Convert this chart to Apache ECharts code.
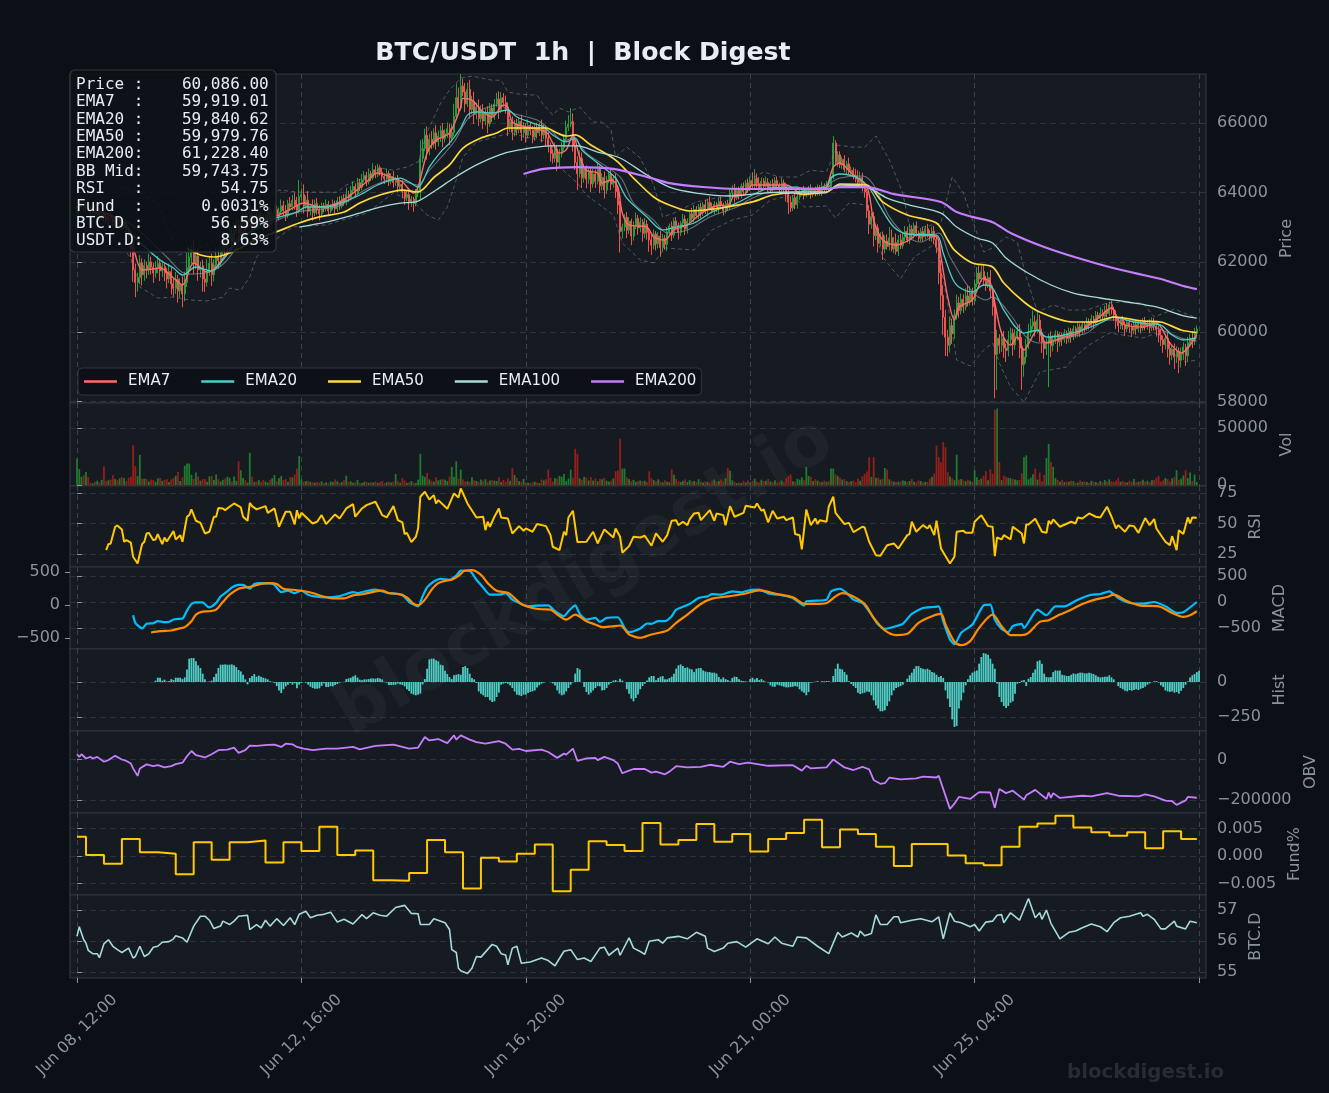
<!DOCTYPE html>
<html><head><meta charset="utf-8"><title>BTC/USDT 1h</title>
<script src="https://cdn.jsdelivr.net/npm/echarts@6/dist/echarts.min.js"></script>
<style>html,body{margin:0;padding:0;background:#0c1016}#c{width:1329px;height:1093px}</style>
</head><body><div id="c"></div>
<script>
// Hourly closes, Jun 08 12:00 onward
const closes=[63480,63620,63710,63590,63650,63540,63420,63510,63380,63440,
63300,63360,63280,63210,63330,63250,63160,63220,63090,63140,
63020,63080,62910,62760,62380,61780,61420,61560,61980,61640,
61910,61780,62010,61860,61690,61840,61970,61750,61880,61690,
61520,61730,61380,61250,61510,61180,61360,61090,61420,61840,
62150,62290,61950,62180,61780,61900,61520,61430,61780,61970,
61640,61920,62180,62050,62340,62510,62420,62680,62820,62590,
62900,63060,62820,63120,63290,63080,63240,63380,63150,63330,
63180,63390,63260,63120,63340,63450,63210,63390,63520,63310,
63440,63620,63480,63350,63680,63590,63780,63640,63490,63880,
63940,63620,63780,63460,63590,63420,63680,63510,63390,63620,
63540,63660,63470,63590,63680,63530,63760,63610,63830,63720,
63950,63840,64060,64170,63990,64280,64150,64360,64490,64310,
64530,64420,64650,64510,64710,64580,64460,64390,64550,64320,
64460,64290,64380,64170,64240,64020,63860,63940,63720,63810,
63690,63980,64060,64980,65260,65640,65180,65520,65390,65710,
65450,65620,65780,65540,65690,65830,65570,65720,66180,66720,
66420,67050,66880,66540,66960,66380,66610,66240,66450,66120,
66330,66050,66280,65980,66420,66190,66540,66680,66350,66720,
66580,66410,65880,66020,65730,65960,65810,66040,65720,65890,
65640,65920,65780,65590,65860,65710,65930,65650,65820,65560,
65340,65120,64980,65250,64870,65110,65290,65540,65870,65960,
66030,65340,64860,64540,64980,64420,64690,64380,64610,64250,
64530,64320,64680,64190,64430,64070,64360,64530,64240,64410,
64020,63640,62880,63010,63290,62920,63180,62750,63040,63260,
62980,63150,62830,63090,62860,62640,62490,62810,62530,62750,
62420,62690,62510,62870,63040,62780,63180,63050,62860,63120,
63240,62950,63180,63390,63260,63510,63340,63580,63420,63650,
63500,63720,63590,63480,63660,63530,63740,63620,63470,63680,
63590,63980,64120,63850,64050,63900,64180,64030,64270,64120,
64340,64190,64410,64260,64130,64320,64180,64290,64110,64260,
64150,64340,64200,64090,64280,64170,63950,63720,63560,63840,
63650,63880,63990,64060,63930,64020,64110,63960,64080,63990,
64120,64030,64180,64090,64210,64160,64460,65420,64860,65080,
64790,64950,64660,64820,64590,64640,64480,64380,64290,64430,
64180,64020,63480,63090,63310,62760,62980,62540,62790,62380,
62610,62450,62700,62380,62560,62310,62640,62480,62720,62890,
62640,62950,62780,63050,62840,62690,62880,62730,62960,62810,
62700,62890,62650,62430,61700,61050,60420,59850,59620,60180,
59950,60480,60830,60610,60940,60720,61030,60850,61120,60890,
61380,61690,61520,61730,61480,61350,61560,61180,60720,59350,
59820,59620,59820,59540,59470,59780,59960,59630,59880,60020,
59540,59060,59280,59640,59980,60170,60290,60080,60340,59980,
59710,59520,59680,59850,59610,59780,59940,59720,59880,59790,
59960,59810,60020,59860,60090,59970,60150,60030,60210,60120,
60280,60190,60370,60260,60480,60390,60540,60450,60620,60530,
60780,60640,60490,60310,60180,60350,60210,60090,60270,60140,
60050,60210,60090,60240,60120,60310,60180,60260,60130,60290,
60170,60060,59910,59780,59640,59820,59530,59340,59510,59280,
59450,59190,59360,59570,59320,59690,59820,59740,59960,60086];
const firstOpen=63400;
const upperWicks=[120,90,150,80,110,130,70,100,140,60,90,120,70,110,80,130,60,100,90,140,
110,70,130,90,160,120,180,140,220,130,170,110,240,150,120,190,210,130,170,110,
140,230,120,160,210,130,180,240,310,420,280,190,340,160,230,120,170,260,310,190,
280,170,240,200,130,160,220,120,260,180,240,190,150,210,170,260,140,320,190,120,
160,130,240,110,90,170,150,120,200,110,130,180,140,160,110,190,150,220,240,480,
180,290,130,260,90,210,120,160,130,90,80,140,100,70,120,90,110,130,80,120,
190,100,130,150,90,140,110,170,120,100,160,90,190,120,110,70,130,90,140,80,
90,150,70,120,80,110,60,100,130,90,70,120,140,520,280,190,260,170,240,130,
220,160,140,210,120,180,150,240,360,410,290,350,210,260,190,270,160,280,130,220,
170,210,120,190,150,110,140,180,220,160,130,200,170,90,160,120,150,110,190,130,
100,170,110,130,90,140,80,160,120,100,170,90,120,180,110,140,170,130,190,260,
390,240,200,180,230,170,140,90,120,110,150,130,180,90,120,170,110,80,140,90,
130,160,120,100,90,150,110,70,130,170,100,140,90,180,120,90,160,130,80,110,
150,120,90,140,70,130,100,120,90,60,150,110,80,90,170,130,100,90,120,80,
140,100,170,120,90,70,110,130,90,80,110,150,90,130,100,120,80,110,90,130,
120,240,260,140,180,110,90,170,120,80,130,100,120,80,140,90,110,130,170,90,
120,150,100,90,130,100,80,120,70,90,110,90,130,80,120,60,90,200,80,100,
100,70,120,90,180,110,80,200,260,170,140,120,90,160,100,130,80,110,70,90,
150,190,310,240,170,260,140,180,120,150,130,160,110,90,120,70,100,130,90,140,
110,130,150,110,240,360,290,220,210,260,200,170,240,180,160,140,230,300,190,150,
130,170,210,160,180,130,160,220,150,170,240,120,150,210,130,250,170,140,200,190,
210,310,240,170,260,210,330,180,240,160,120,190,130,110,170,140,110,90,130,100,
120,80,110,90,100,70,120,90,100,80,140,110,130,90,120,100,170,110,140,210,
90,110,80,130,100,70,110,90,80,120,100,80,130,70,110,90,120,80,100,130,
110,90,130,170,120,90,190,150,120,160,140,110,190,130,90,170,120,210,160,100];
const lowerWicks=[90,120,80,140,100,90,130,70,110,150,80,100,130,90,120,70,140,110,100,90,
130,80,120,160,230,340,420,260,190,310,170,240,150,210,280,130,160,290,180,230,
270,120,310,240,160,340,190,380,210,130,180,250,290,150,310,220,360,280,130,170,
320,190,150,240,180,120,210,140,160,290,130,110,250,100,170,240,130,90,210,120,
190,110,150,210,90,130,240,120,80,170,110,90,140,170,80,120,100,130,190,90,
110,220,90,170,120,230,100,140,190,80,110,90,150,70,90,130,80,110,70,100,
90,120,70,80,130,60,110,90,70,130,80,90,60,100,70,90,120,140,80,130,
90,150,100,170,80,190,210,110,220,130,240,90,110,280,120,80,240,110,140,100,
220,130,170,240,110,120,210,130,100,90,190,70,120,240,90,260,130,280,140,210,
110,230,120,280,90,170,100,80,240,70,110,150,260,140,230,120,170,110,240,150,
210,90,140,180,110,150,90,210,120,240,190,230,150,110,260,130,100,90,70,110,
90,170,210,470,120,290,140,260,130,240,110,190,90,210,130,240,110,90,170,100,
180,260,600,200,120,230,110,260,130,90,190,120,240,140,210,340,280,120,190,130,
260,110,150,190,100,170,90,120,210,110,100,170,130,90,70,120,80,110,150,90,
120,190,100,80,110,90,130,80,130,70,120,80,110,140,60,100,70,90,90,130,
80,70,110,120,90,100,80,110,90,110,120,90,100,130,150,170,210,340,120,90,
130,110,90,80,130,70,110,140,90,100,80,120,130,110,70,100,90,80,100,120,
90,110,80,130,70,90,100,90,130,110,150,170,210,280,130,310,120,260,90,310,
130,90,110,70,120,90,130,100,90,110,70,120,90,100,110,80,90,130,80,100,
90,110,130,170,330,420,510,540,320,210,290,140,130,200,110,170,100,120,90,140,
110,90,140,80,150,170,90,210,250,1250,1010,240,190,280,330,170,130,310,140,120,
290,720,340,180,130,110,90,210,120,260,310,290,180,1260,330,170,120,290,140,190,
100,150,110,170,90,130,120,170,90,130,80,120,90,150,70,110,90,120,80,110,
80,140,170,220,190,100,150,210,90,170,190,110,170,100,160,90,130,110,170,100,
130,190,210,180,240,140,260,280,150,340,170,370,210,160,290,170,120,200,110,90];
const volumes=[23000,14000,7200,8700,11500,7200,2000,1500,3000,3800,2400,4600,16500,3500,4200,4800,8700,5300,4100,6000,
7000,6200,3600,6500,7400,35000,16500,7800,26500,5600,5600,5400,3200,4800,4400,2800,5900,6200,3700,4600,
5100,2800,5000,6300,8200,11500,3600,6800,17000,18800,18800,9000,5400,11000,7400,3800,5100,5400,2900,7600,
8000,4400,9300,5200,3100,4600,5700,7300,6400,3400,7500,3800,20800,13000,6300,4300,2200,28300,7200,2800,
3000,4400,2800,4300,3000,2200,4700,6000,8800,3400,6200,8000,4500,5300,2600,7000,6800,9400,14500,25400,
4800,3000,3400,3700,2800,2400,2100,2600,2200,3300,1800,2400,1600,3100,2700,5000,3200,2100,2600,4200,
8200,2800,3200,2100,2400,4400,2000,1800,2900,3000,2100,2500,2300,3200,1900,2600,3600,1700,2500,3000,
2300,3000,9700,3300,2100,6300,4000,2000,2400,3500,2200,1800,4700,27500,8400,7200,10500,5000,3800,2900,
6800,4100,4800,5200,4700,3500,7400,15900,7000,20800,5600,13600,5000,3200,3500,2600,6800,4200,3600,2700,
4900,3800,5100,2900,4100,4400,3800,3500,6800,2700,4600,3000,5800,3800,15000,8800,6400,3600,3000,5400,
2400,2000,1800,2600,3000,2300,1700,4900,4100,5200,13600,6400,3000,6100,5700,8100,7300,9800,3400,5700,
13600,6500,31800,27500,5900,4600,7200,6500,4000,7000,3900,5800,3300,5300,5100,6500,3800,3000,3900,5800,
12100,12800,40500,14500,14500,6800,5400,3500,4600,2800,3500,4000,3400,3800,2800,12100,6000,4400,3300,5000,
3300,2400,4200,3000,2500,13600,9000,5400,3200,2800,3900,5000,2700,4400,3200,3600,2800,5100,3000,2400,
3300,2800,1600,3800,4800,2900,3600,5000,3400,6000,15000,12500,4200,3000,1700,2500,1800,3700,2400,4000,
2500,3800,5600,3100,2400,4700,3600,3800,5300,3100,2600,4300,2200,3000,4000,2700,6200,8000,9400,3400,
3000,5500,4700,6800,4200,15900,8000,7300,3500,5100,3900,3000,2600,4000,2800,3400,14500,14500,9500,8000,
6400,4800,5200,3500,2800,3600,4000,2500,5600,3800,7700,9800,12000,24500,7200,24500,6400,6600,4800,5500,
15000,13600,5000,3700,3000,2600,3000,3300,4100,3600,2800,3600,5300,3000,2500,4100,3600,2200,3000,2700,
5500,7300,10000,34700,24500,20000,37600,33200,11200,7500,5800,4300,26600,4600,5300,4200,3400,4600,3800,2800,
13000,6800,4500,5800,8200,12200,4200,14000,10000,65900,67000,20200,4300,8300,7400,6300,6000,5400,5000,4200,
4500,10500,24600,26000,5000,6600,9400,14500,4800,11000,3400,9000,23700,36100,20200,15900,6100,4500,3000,4400,
2600,3100,2900,3800,3400,2000,2300,4100,2900,3200,2700,1800,3700,3000,2600,2100,3600,2400,4400,3100,
5000,3300,2700,4000,6500,2900,3600,2800,2400,3800,3100,5300,2600,2900,3500,4700,3000,3800,2500,4200,
4500,6500,8000,3000,4100,6200,5300,3300,6000,7000,13000,4400,5800,8400,13000,6100,11000,3600,9200,2800];

// Moving averages, read at the hours listed beside them
const ema7Hours=[6,12,18,22,24,26,29,33,37,43,47,52,58,62,67,72,76,83,90,96,101,108,116,122,129,134,141,145,150,152,156,160,166,171,172,176,180,183,185,190,192,194,200,209,212,215,218,221,224,227,232,234,238,241,243,246,254,257,262,266,272,279,287,290,293,297,301,307,316,324,331,334,337,340,345,352,355,359,365,371,374,383,385,388,391,393,399,404,407,409,412,416,419,422,428,432,440,446,455,461,465,475,481,487,492,499];
const ema7=[63560,63420,63250,63080,62800,62208,61777,61800,61835,61548,61347,61978,61720,61864,62294,62700,63010,63200,63354,63555,63698,63584,63698,63928,64300,64558,64415,64300,63985,64157,65132,65505,65705,66450,66700,66650,66360,66220,66160,66510,66450,66020,65880,65735,65418,65130,65220,65650,65015,64640,64558,64270,64360,64157,63410,63070,63010,62725,62640,62925,63070,63440,63640,63584,63928,63928,64215,64215,64215,63928,64070,64157,64730,64845,64558,64157,63210,62640,62494,62640,62780,62725,62150,61000,60344,60717,60918,61548,61405,60830,59970,59627,59856,59484,60057,59685,59856,59970,60400,60688,60258,60143,60258,59685,59398,59919];
const ema20Hours=[19,27,37,43,47,53,60,65,71,80,89,98,102,111,119,126,134,144,148,152,157,162,166,171,174,178,185,192,196,203,208,212,218,222,225,232,240,245,254,261,267,275,283,294,301,309,321,324,331,334,336,340,348,353,358,364,370,383,386,390,393,399,404,408,413,422,428,432,440,448,457,462,471,478,483,488,493,499];
const ema20=[63200,62640,62065,61835,61634,61864,61748,62065,62550,63000,63270,63440,63584,63584,63730,63928,64215,64415,64300,64157,64730,65160,65418,65850,66220,66310,66280,66365,66165,65990,65880,65650,65450,65560,65220,64845,64415,63840,63300,62925,63010,63125,63440,63698,63928,64130,64157,64070,64130,64157,64415,64530,64415,64130,63584,63010,62810,62780,62265,61548,61290,61147,61348,61260,60630,59970,60057,59856,59914,60057,60287,60430,60287,60230,60200,59914,59770,59841];
const ema50Hours=[49,55,61,68,80,90,99,108,119,126,135,145,152,159,166,172,180,187,192,209,214,218,222,229,240,248,257,264,273,287,301,310,319,324,331,334,340,352,359,370,383,388,391,399,408,413,422,429,444,453,462,475,483,492,499];
const ema50=[62400,62208,62150,62265,62650,62900,63125,63300,63440,63698,63928,64070,64015,64430,64790,65275,65560,65705,65850,65850,65705,65620,65650,65360,64930,64415,63870,63640,63470,63555,63730,63928,63985,63955,63985,64000,64243,64215,63730,63354,63125,62640,62350,61978,61864,61405,60860,60573,60287,60287,60430,60315,60287,60057,59980];
const ema100Hours=[99,111,123,135,144,151,160,168,178,188,197,211,223,232,242,254,264,276,291,306,319,331,334,340,352,361,371,385,392,401,408,414,423,434,444,456,468,481,492,499];
const ema100=[63010,63150,63354,63584,63698,63730,64070,64415,64790,65075,65220,65335,65335,65160,64990,64500,64157,63985,63900,63985,64015,64015,64020,64215,64157,63840,63640,63410,63010,62695,62550,62120,61720,61348,61118,60975,60860,60717,60487,60400];
const ema200Hours=[199,208,223,239,254,264,279,294,309,324,334,340,352,364,385,392,399,408,416,431,446,460,475,483,493,499];
const ema200=[64530,64675,64730,64675,64445,64270,64157,64100,64100,64100,64100,64157,64157,63955,63727,63440,63300,63150,62840,62437,62120,61864,61634,61520,61319,61228];

// Bollinger bands
const bbMidHours=[19,30,40,49,59,66,76,89,99,116,129,141,152,156,162,168,175,188,194,205,211,217,221,227,242,248,257,263,272,282,294,301,316,331,334,340,350,355,362,370,376,384,389,399,405,408,416,423,429,440,450,459,468,478,492,499];
const bbMid=[63320,62780,62150,61660,61720,62000,62800,63200,63450,63600,64100,64380,64214,64558,64990,65447,66165,66510,66280,66080,65790,65476,65560,65130,64445,63698,63210,62840,62925,63300,63584,63840,64157,64130,64214,64415,64473,64215,63300,62725,62580,62840,62150,61147,60918,61000,60487,59856,59684,59828,59970,60344,60344,60200,59828,59744];
const bbUpperHours=[19,26,36,45,58,70,87,90,99,116,120,129,135,141,147,152,156,162,166,171,176,185,189,192,197,205,208,212,215,219,224,230,234,238,240,245,251,257,261,266,276,287,294,301,306,313,321,327,334,339,346,351,356,362,368,371,377,385,390,395,399,404,408,414,419,423,428,435,442,450,459,465,475,480,489,499];
const bbUpper=[64130,64050,63700,62200,62500,63100,63930,64070,64010,64010,64215,64450,64700,64640,64730,64875,65730,66560,66940,67280,67340,67220,67220,66880,66820,66790,66510,66220,66420,66310,66450,66020,66020,65790,65020,65300,64990,64215,63300,63410,63730,63870,63985,64415,64590,64445,64445,64640,64590,65360,65300,65300,65620,64930,63985,63010,63010,63125,64445,63985,63210,62294,62410,62725,62580,61577,60573,60774,60630,60630,60830,60860,60830,60430,60660,60400];
const bbLowerHours=[19,24,28,36,43,50,58,65,68,73,77,80,87,96,111,129,141,150,156,161,165,168,172,178,193,202,211,215,223,227,239,243,251,257,262,275,279,283,292,301,309,319,324,334,338,344,352,359,367,373,383,388,392,398,404,408,411,416,422,429,441,444,451,460,475,481,488,494,499];
const bbLower=[62600,62100,61290,60975,61000,60918,60890,61000,61260,61200,61577,62150,62580,63010,63070,63410,63985,63730,63354,63210,63584,64157,65015,65447,65705,65560,65450,64730,64270,63928,63354,62550,62065,61980,62410,62350,62640,62925,63210,63354,63784,63928,63584,63612,63270,63698,63641,62150,61520,62150,62550,60830,59197,59025,59484,59684,59110,58423,57990,58853,58997,59254,59627,59970,59828,59970,59398,59140,59197];

// RSI
const rsiHours=[13,14,15,17,18,20,21,22,24,25,27,29,30,31,32,34,35,36,38,39,40,43,44,46,47,49,50,51,53,55,57,59,61,62,63,65,66,68,70,73,74,76,77,78,80,84,85,88,90,93,95,97,98,99,100,105,107,109,111,115,117,120,123,124,127,129,133,136,138,141,143,145,146,147,149,151,152,153,155,157,159,160,161,165,168,170,171,174,178,181,182,183,184,186,188,189,192,194,197,199,200,203,205,209,211,212,215,217,218,219,221,223,227,230,232,235,239,240,242,243,246,248,251,253,256,258,261,263,265,267,268,270,272,273,275,277,278,282,284,285,288,289,291,293,297,298,302,303,305,306,308,310,312,315,316,319,320,322,323,325,327,329,330,331,334,335,337,338,342,344,346,350,351,353,356,358,361,364,366,370,371,372,374,377,379,380,382,383,385,389,391,392,395,396,399,400,403,406,408,409,410,412,413,416,417,421,422,423,424,427,430,432,433,434,435,438,443,445,446,448,451,454,456,459,461,463,464,467,469,471,473,476,478,480,481,485,487,488,490,491,493,495,496,497,499];
const rsi=[28.1,33,33.6,47.3,48.4,45,35,36.3,34.2,22.7,17.2,33,35,41.8,42.3,36.3,36.9,41.3,33,38.5,35.2,43.7,36.9,40.4,35,55.5,56.8,61.5,52.2,50.5,41.8,43.2,55.5,55.5,62.6,62.3,60.9,63.7,66.4,63.1,55.5,52.2,66.9,64.2,61.5,64.2,58.7,62.3,47.3,59.6,59.6,49.2,60.9,54.1,58.7,50,51.4,56.8,49.5,57.4,54.1,62.3,65.8,55.5,62.3,65,67.8,56.8,54.9,64.2,52.7,50.8,41.3,42.3,34.7,39.1,45.9,71.9,76,69.7,73.2,66.4,69.1,62,74.6,71.3,78.7,66.4,54.9,55.5,44.5,51.4,47.3,55.5,62.3,54.9,54.1,41.8,47.8,44,45.9,43.2,49.5,47.8,40.4,30.9,28.1,43.2,40.4,54.9,60.4,34.7,35,43.2,33.6,45.1,38.5,45.9,39.1,26,31.4,39.1,38.5,39.9,31.7,41.8,35,40.4,52.2,52.7,48.6,51.4,48.6,53.3,58.2,58.7,52.7,60.9,52.2,58.2,56.8,48.6,64.2,55.5,58.7,64.5,63.1,66.4,60.4,61.5,50.8,60.4,54.1,55.5,52.7,54.9,41.3,40.4,28.7,61.5,48.6,54.1,49.5,52.7,51.4,63.7,71.9,58.7,49.5,50.5,42.9,47.3,46.7,35,24,23.5,32.2,33.6,29.5,40.4,41.3,51.4,43.2,48.6,45.9,48.6,40.4,52.2,29.5,17.2,22.7,43.2,44,42.3,42.3,51.4,56.8,47.8,47.3,23.2,38.5,36.9,40.4,36.9,47.3,41.8,33.6,49.2,49.2,53.8,43.2,42.3,52.2,49.5,53.3,47.3,51.4,50,54.9,54.1,58.2,55.5,54.9,63.7,55.5,45.9,48.6,43.2,48.4,47.8,42.3,54.4,48.6,53.6,45.9,35,32.2,39.6,28.1,44.5,41.3,54.9,50,54.9,54.75];

// MACD
const macdHours=[25,26,28,29,31,34,36,39,41,43,45,47,49,51,53,56,58,59,62,64,67,69,72,74,77,79,82,86,88,91,94,97,100,103,106,111,116,119,123,125,129,133,138,142,145,148,152,154,156,159,162,166,169,171,175,178,181,184,188,191,194,198,201,205,210,213,217,219,222,224,227,231,233,236,241,244,246,251,254,256,259,262,265,267,273,277,281,283,287,292,296,300,304,308,315,319,324,325,329,334,336,340,343,346,350,354,357,360,365,368,372,377,382,384,386,389,391,394,399,404,407,409,412,415,417,421,422,428,432,436,440,446,452,456,460,464,469,475,480,485,490,493,499];
const macd=[-255,-401,-484,-510,-420,-408,-369,-389,-382,-338,-325,-319,-166,-38,-6,-6,-83,-102,-19,108,204,280,331,331,255,344,363,357,331,191,217,172,217,140,108,89,102,140,191,172,210,236,178,159,140,0,-83,108,280,395,446,427,510,605,599,427,280,140,140,172,45,-38,-83,-70,-64,-178,-274,-178,-64,-229,-338,-306,-382,-306,-293,-497,-580,-510,-414,-420,-369,-369,-274,-147,-38,76,108,153,140,204,185,229,236,166,121,76,-70,13,25,45,204,255,172,45,-19,-242,-433,-516,-465,-420,-229,-115,-96,-83,-369,-720,-815,-592,-433,-64,-51,-338,-516,-580,-465,-420,-497,-147,-255,-83,-83,45,140,153,204,76,-19,-32,0,-83,-210,-197,0];
const signalHours=[33,37,42,45,48,51,53,56,59,62,65,68,72,75,78,82,86,89,92,96,100,105,109,114,119,123,128,133,136,139,143,147,150,152,155,158,161,165,167,170,173,176,180,183,187,192,195,198,203,207,211,214,218,222,227,231,234,238,242,246,249,251,256,263,267,272,278,283,290,297,304,312,319,324,329,334,338,341,345,351,355,360,365,370,375,381,385,387,391,394,398,402,408,412,416,421,424,429,433,438,443,448,454,459,462,468,474,482,488,493,496,499];
const signal=[-586,-561,-548,-516,-484,-369,-242,-185,-178,-147,0,140,255,280,299,350,363,344,255,236,217,172,115,70,70,127,153,204,217,172,153,89,-38,-64,45,236,363,414,427,503,605,612,522,363,217,178,76,-38,-115,-140,-147,-242,-338,-242,-369,-433,-484,-471,-452,-624,-675,-688,-624,-548,-401,-242,-38,64,108,153,223,153,89,-32,-38,-19,108,172,127,-38,-306,-548,-637,-612,-401,-274,-229,-433,-764,-828,-752,-497,-242,-465,-637,-637,-592,-382,-350,-242,-147,-38,51,96,140,13,-70,-83,-210,-287,-255,-178];
// Histogram, one bar per hour from hour 35
const histStart=35;
const hist=[10,31,31,10,17,5,7,21,14,31,31,31,21,33,90,167,171,171,148,119,100,60,19,2,5,10,36,60,100,124,124,126,124,124,126,119,107,86,76,52,19,-17,29,43,57,38,45,38,31,26,19,5,2,-7,-29,-60,-79,-52,-31,-19,-7,-19,-10,-45,-19,-7,0,-5,-19,-33,-43,-48,-48,-45,-29,-10,-36,-36,-29,-31,-21,-14,-5,0,2,21,26,31,40,48,31,17,12,19,19,21,26,26,24,29,26,19,2,-5,-21,-21,-21,-19,-10,-17,-21,-31,-52,-64,-83,-90,-95,-90,-83,-17,21,95,162,167,167,155,148,124,119,81,57,36,21,48,52,57,52,107,114,100,60,29,19,-7,-67,-83,-95,-107,-107,-131,-143,-138,-107,-76,-19,-12,-7,-12,-24,-43,-67,-90,-95,-100,-90,-90,-79,-71,-67,-60,-40,-24,-12,-5,0,0,-2,-10,-24,-60,-83,-95,-90,-67,-43,-19,-2,60,100,90,0,-36,-71,-90,-76,-60,-43,-29,-31,-60,-57,-43,-19,-7,10,14,5,24,10,0,-52,-83,-119,-138,-114,-90,-52,-29,-12,
10,33,43,43,12,29,38,43,19,19,29,38,60,95,119,126,114,100,105,95,90,71,95,100,100,83,76,71,71,67,67,60,36,19,33,21,14,5,29,38,36,19,10,7,5,2,21,31,19,29,14,21,10,2,-5,-24,-33,-33,-19,-24,-29,-33,-38,-38,-36,-33,-29,-33,-52,-67,-76,-95,-71,-5,-2,2,7,0,5,5,7,7,0,43,95,131,95,90,71,52,5,-14,-29,-43,-76,-86,-81,-76,-67,-71,-95,-131,-167,-190,-209,-209,-202,-171,-138,-95,-60,-43,-36,-29,-19,0,24,48,67,95,114,114,100,95,90,95,86,71,67,52,36,43,29,-60,-119,-179,-267,-321,-314,-190,-131,-76,-24,19,48,67,76,83,131,179,207,202,195,167,131,95,-10,-107,-143,-171,-186,-171,-148,-138,-83,-12,-7,10,14,-29,24,36,67,90,148,155,131,60,36,33,36,71,83,81,83,52,48,43,43,52,62,57,62,67,67,62,62,67,62,57,48,38,33,36,38,38,48,33,19,0,-29,-43,-52,-62,-67,-57,-62,-57,-52,-57,-48,-43,-33,-19,-10,0,5,7,-5,-24,-36,-60,-67,-71,-67,-76,-71,-83,-62,-43,-19,5,33,48,57,71,81];

// On-balance volume
const obvHours=[0,1,2,4,6,7,9,12,14,17,20,22,24,25,27,28,31,34,36,39,42,44,47,49,51,53,57,60,63,67,70,72,75,77,80,85,88,91,93,96,98,101,105,111,116,123,126,133,141,145,148,152,155,157,161,165,168,169,171,175,178,182,188,191,194,197,200,207,210,214,217,218,221,223,227,231,232,235,239,241,243,246,248,253,256,258,262,264,267,272,278,282,288,291,295,299,308,319,323,325,327,334,337,342,346,350,353,355,358,360,362,367,374,377,383,384,389,391,393,398,402,407,409,411,414,417,422,423,427,432,433,434,435,438,448,452,459,464,473,476,480,485,488,490,494,495,499];
const obv=[26000,13000,26000,5000,13000,5000,13000,-11000,-3000,18000,0,-7000,-20000,-44000,-81000,-44000,-24000,-33000,-28000,-39000,-33000,-23000,-16000,16000,42000,21000,10000,26000,46000,49000,59000,33000,46000,68000,67000,72000,73000,62000,78000,75000,62000,54000,46000,54000,54000,62000,50000,67000,73000,62000,54000,59000,111000,94000,101000,81000,119000,98000,119000,98000,86000,78000,91000,78000,49000,52000,42000,49000,37000,8000,29000,24000,54000,-7000,5000,8000,-3000,13000,-3000,-20000,-68000,-55000,-47000,-47000,-65000,-60000,-73000,-60000,-33000,-39000,-36000,-26000,-36000,-11000,-23000,-16000,-31000,-28000,-55000,-31000,-44000,-39000,0,-39000,-52000,-36000,-49000,-101000,-120000,-117000,-89000,-98000,-93000,-85000,-89000,-80000,-244000,-218000,-185000,-195000,-161000,-163000,-239000,-146000,-166000,-154000,-198000,-177000,-150000,-195000,-163000,-190000,-166000,-190000,-179000,-182000,-166000,-179000,-182000,-172000,-182000,-203000,-206000,-224000,-202000,-185000,-189000];

// Funding rate, settled every eight hours
const fundLevels=[.0035,.0002,-.0014,.0031,.0007,.0004,-.0033,.0025,-.0007,.0025,.0028,-.0012,.0025,.0009,.0053,.0002,.0010,-.0044,-.0045,-.0031,.0029,.0007,-.0059,-.0003,-.0010,.0004,.0021,-.0064,-.0025,.0027,.0020,.0009,.0060,.0021,.0029,.0058,.0026,.0040,.0008,.0031,.0042,.0066,.0016,.0048,.0040,.0017,-.0018,.0022,.0022,.0001,-.0013,-.0017,.0017,.0053,.0059,.0073,.0052,.0043,.0037,.0043,.0014,.0045,.0031];
const lastHour=499;

// BTC dominance
const btcdHours=[0,1,3,4,5,7,9,10,12,14,16,18,20,23,25,26,28,30,32,34,36,38,41,43,44,47,49,52,55,57,59,61,64,65,68,70,72,76,77,80,82,84,86,89,92,95,97,99,102,104,107,110,113,116,119,123,127,129,132,135,138,142,146,149,152,153,157,159,164,166,167,169,170,171,174,176,178,180,185,187,189,191,192,194,196,198,202,207,210,213,217,220,223,226,229,233,235,237,241,242,246,248,251,253,255,259,261,263,268,272,276,280,281,284,288,290,294,298,303,308,311,314,319,321,325,330,335,339,341,345,348,349,351,354,356,358,361,364,366,367,372,376,381,384,386,389,391,394,398,400,402,405,408,410,412,413,416,420,424,427,429,430,432,434,438,442,445,448,452,456,459,462,465,469,474,475,477,480,483,485,489,490,494,496,499];
const btcd=[56.15,56.46,56.04,55.93,55.7,55.59,55.59,55.46,55.91,56.04,55.83,55.72,55.63,55.77,55.45,55.5,55.83,55.5,55.59,55.8,55.83,55.96,55.98,56.07,56.17,56.1,55.96,56.48,56.8,56.8,56.67,56.4,56.48,56.64,56.53,56.64,56.8,56.83,56.37,56.53,56.42,56.67,56.48,56.72,56.5,56.75,56.53,56.86,56.96,56.75,56.83,56.86,56.93,56.61,56.7,56.55,56.85,56.72,56.91,56.83,56.8,57.08,57.15,56.89,56.88,56.53,56.53,56.72,56.59,56.37,55.72,55.63,55.12,55.04,54.95,55.12,55.5,55.48,55.89,55.83,55.59,55.55,55.23,55.77,55.83,55.28,55.32,55.45,55.37,55.2,55.67,55.72,55.4,55.45,55.34,55.77,55.8,55.54,55.77,55.54,56.1,55.77,55.66,55.57,55.99,56.04,55.93,56.1,56.15,56.07,56.28,56.15,55.77,55.66,55.77,55.93,55.98,55.8,56.07,55.91,56.13,55.93,55.83,56.13,56.1,55.83,55.59,56.28,56.13,56.26,56.13,56.32,56.17,56.24,56.84,56.53,56.53,56.78,56.78,56.59,56.67,56.72,56.62,56.78,56.07,56.91,56.64,56.59,56.46,56.53,56.32,56.61,56.64,56.83,56.85,56.59,56.91,56.67,57.37,56.75,56.91,56.7,57,56.57,56.07,56.28,56.32,56.43,56.55,56.46,56.3,56.59,56.75,56.8,56.91,56.8,56.86,56.7,56.39,56.39,56.64,56.48,56.39,56.64,56.59];

// Axis tick values and labels
const xTickHours=[0,100,200,300,400,500];
const xLabelHours=[0,100,200,300,400];
const xTickLabels=['Jun 08, 12:00','Jun 12, 16:00','Jun 16, 20:00','Jun 21, 00:00','Jun 25, 04:00'];
const priceTicks=[58000,60000,62000,64000,66000];
const volTicks=[0,50000];
const rsiTicks=[25,50,75];
const macdTicks=[-500,0,500];
const histTicks=[-250,0];
const obvTicks=[-200000,0];
const fundTicks=[-0.005,0,0.005];
const btcdTicks=[55,56,57];
const infoRows=[['Price :','60,086.00'],['EMA7  :','59,919.01'],['EMA20 :','59,840.62'],['EMA50 :','59,979.76'],['EMA200:','61,228.40'],['BB Mid:','59,743.75'],['RSI   :','54.75'],['Fund  :','0.0031%'],['BTC.D :','56.59%'],['USDT.D:','8.63%']];

const UP='#2a9d3a',DOWN='#ef5350',VOL_UP='#1f7a2e',VOL_DOWN='#941f1a';
const PANEL='#161b22',EDGE='#30363d',GRID='#2d333b',TEXT='#8b949e',FONT='"DejaVu Sans"';

const zip=(xs,ys)=>xs.map((x,i)=>[x,ys[i]]);
const minus=s=>String(s).replace('-','\u2212');

const opens=closes.map((c,i)=>i?closes[i-1]:firstOpen);
const candles=closes.map((c,i)=>{
  const o=opens[i];
  return [i,o,c,Math.min(o,c)-lowerWicks[i],Math.max(o,c)+upperWicks[i]];
});
const volBars=volumes.map((v,i)=>({value:[i,v],itemStyle:{color:closes[i]>=opens[i]?VOL_UP:VOL_DOWN}}));
const histBars=hist.map((v,i)=>[histStart+i,v]);
const fundSteps=fundLevels.map((v,i)=>[i?4+8*(i-1):0,v]).concat([[lastHour,fundLevels[fundLevels.length-1]]]);

// Eight stacked panels: name, top, bottom, axis range, ticks, label format, axis-title gap
const panels=[
 {name:'Price',top:74,bottom:403,min:57964,max:67398,ticks:priceTicks,fmt:v=>v,gap:73},
 {name:'Vol',top:403,bottom:486,min:-800,max:71900,ticks:volTicks,fmt:v=>v,gap:71},
 {name:'RSI',top:486,bottom:567,min:14.3,max:80.7,ticks:rsiTicks,fmt:v=>v,gap:42},
 {name:'MACD',top:567,bottom:649,min:-904,max:673,ticks:macdTicks,fmt:v=>minus(v),gap:65},
 {name:'Hist',top:649,bottom:731,min:-350,max:236,ticks:histTicks,fmt:v=>minus(v),gap:66},
 {name:'OBV',top:731,bottom:813,min:-264200,max:140700,ticks:obvTicks,fmt:v=>minus(v),gap:95},
 {name:'Fund%',top:813,bottom:895,min:-0.00709,max:0.00782,ticks:fundTicks,fmt:v=>minus(v.toFixed(3)),gap:80},
 {name:'BTC.D',top:895,bottom:978,min:54.806,max:57.484,ticks:btcdTicks,fmt:v=>v,gap:42}
];
const last=panels.length-1;
const grids=panels.map(p=>({left:70,width:1136,top:p.top,height:p.bottom-p.top,show:true,backgroundColor:PANEL,borderColor:EDGE,borderWidth:1.2}));
const xAxes=panels.map((p,i)=>({
  type:'value',gridIndex:i,min:-3.12,max:503.1,position:'bottom',
  axisLine:{show:false},
  axisTick:{show:i===last,customValues:xTickHours,length:5,lineStyle:{color:TEXT}},
  axisLabel:{show:i===last,customValues:xLabelHours,rotate:45,align:'center',verticalAlign:'middle',color:TEXT,fontFamily:FONT,fontSize:16,margin:57,
    formatter:v=>xTickLabels[xLabelHours.indexOf(v)]||''},
  splitLine:{show:true,lineStyle:{color:'#3a414b',type:[5,4],width:1}}
}));
const yAxes=panels.map((p,i)=>({
  type:'value',gridIndex:i,position:'right',min:p.min,max:p.max,
  name:p.name,nameLocation:'middle',nameRotate:90,nameGap:p.gap,
  nameTextStyle:{color:TEXT,fontFamily:FONT,fontSize:16},
  axisLine:{show:false},
  axisTick:{show:true,customValues:p.ticks,length:5,lineStyle:{color:TEXT}},
  axisLabel:{customValues:p.ticks,color:TEXT,fontFamily:FONT,fontSize:16,margin:11,formatter:p.fmt},
  splitLine:{show:true,lineStyle:{color:GRID,type:[6,4],width:1}}
}));
// MACD panel also carries a left-hand scale
yAxes.push({
  type:'value',gridIndex:3,position:'left',min:-667,max:575,
  axisLine:{show:false},
  axisTick:{show:true,customValues:macdTicks,length:5,lineStyle:{color:TEXT}},
  axisLabel:{customValues:macdTicks,color:TEXT,fontFamily:FONT,fontSize:16,margin:10,formatter:v=>minus(v)},
  splitLine:{show:false}
});

const line=(name,panel,data,color,width,extra)=>Object.assign({
  name,type:'line',xAxisIndex:panel,yAxisIndex:panel,data,showSymbol:false,symbol:'none',
  lineStyle:{color,width},itemStyle:{color},silent:true,z:4
},extra||{});

const series=[
  {type:'candlestick',name:'Candles',xAxisIndex:0,yAxisIndex:0,data:candles,barWidth:1.5,z:3,silent:true,
   encode:{x:0,y:[1,2,3,4]},
   itemStyle:{color:UP,color0:DOWN,borderColor:UP,borderColor0:DOWN,borderWidth:1}},
  line('BB Upper',0,zip(bbUpperHours,bbUpper),'rgba(139,148,158,.5)',1,{lineStyle:{color:'rgba(139,148,158,.5)',width:1,type:[4,3]}}),
  line('BB Lower',0,zip(bbLowerHours,bbLower),'rgba(139,148,158,.5)',1,{lineStyle:{color:'rgba(139,148,158,.5)',width:1,type:[4,3]}}),
  line('BB Mid',0,zip(bbMidHours,bbMid),'rgba(139,148,158,.7)',1.1,{smooth:.3}),
  line('EMA7',0,zip(ema7Hours,ema7),'#ff6b6b',1.4,{smooth:.3}),
  line('EMA20',0,zip(ema20Hours,ema20),'#4ecdc4',1.3,{smooth:.3}),
  line('EMA50',0,zip(ema50Hours,ema50),'#ffd93d',1.7,{smooth:.3}),
  line('EMA100',0,zip(ema100Hours,ema100),'#a8dadc',1.3,{smooth:.3}),
  line('EMA200',0,zip(ema200Hours,ema200),'#c77dff',2.2,{smooth:.3}),
  {type:'bar',name:'Vol',xAxisIndex:1,yAxisIndex:1,data:volBars,barWidth:1.8,silent:true,z:3},
  line('RSI',2,zip(rsiHours,rsi),'#ffc800',2),
  line('MACD',3,zip(macdHours,macd),'#00bfff',2.2,{smooth:.2}),
  line('Signal',3,zip(signalHours,signal),'#ff8c00',2.2,{smooth:.3}),
  {type:'bar',name:'Hist',xAxisIndex:4,yAxisIndex:4,data:histBars,barWidth:1.8,silent:true,z:3,itemStyle:{color:'#4ecdc4'}},
  line('OBV',5,zip(obvHours,obv),'#c77dff',1.8),
  line('Fund',6,fundSteps,'#ffc800',2,{step:'end'}),
  line('BTC.D',7,zip(btcdHours,btcd),'#a8dadc',1.6)
];

const infoText=infoRows.map(r=>r[0]+r[1].padStart(13,' ')).join('\n');

const chart=echarts.init(document.getElementById('c'),null,{renderer:'canvas'});
chart.setOption({
  animation:false,backgroundColor:'#0c1016',
  title:{text:'BTC/USDT  1h  |  Block Digest',left:578,top:36,textAlign:'center',
    textStyle:{color:'#e6edf3',fontFamily:FONT,fontWeight:'bold',fontSize:25.2}},
  legend:{data:['EMA7','EMA20','EMA50','EMA100','EMA200'],left:78,top:368,orient:'horizontal',selectedMode:false,
    icon:'rect',itemWidth:33,itemHeight:2.5,itemGap:31,padding:[6,5,6,6],
    backgroundColor:'#0d1117',borderColor:EDGE,borderWidth:1,borderRadius:4,
    textStyle:{color:'#e6edf3',fontFamily:FONT,fontSize:15,padding:[0,0,0,6]},z:20},
  grid:grids,xAxis:xAxes,yAxis:yAxes,series,
  graphic:[
    {type:'text',z:1,silent:true,x:585,y:578,rotation:30.4*Math.PI/180,
     style:{text:'blockdigest.io',font:'bold 71px '+FONT,fill:'rgba(255,255,255,.035)',textAlign:'center',textVerticalAlign:'middle'}},
    {type:'rect',z:100,silent:true,shape:{x:70,y:70,width:206,height:182,r:5},
     style:{fill:'rgba(13,17,23,.88)',stroke:EDGE,lineWidth:1.2}},
    {type:'text',z:101,silent:true,x:76,y:76,
     style:{text:infoText,font:'16px "DejaVu Sans Mono"',fill:'#e6edf3',lineHeight:17.4}},
    {type:'text',z:5,silent:true,x:1067,y:1063,
     style:{text:'blockdigest.io',font:'bold 19.8px '+FONT,fill:'#262c35'}}
  ]
});
</script></body></html>
